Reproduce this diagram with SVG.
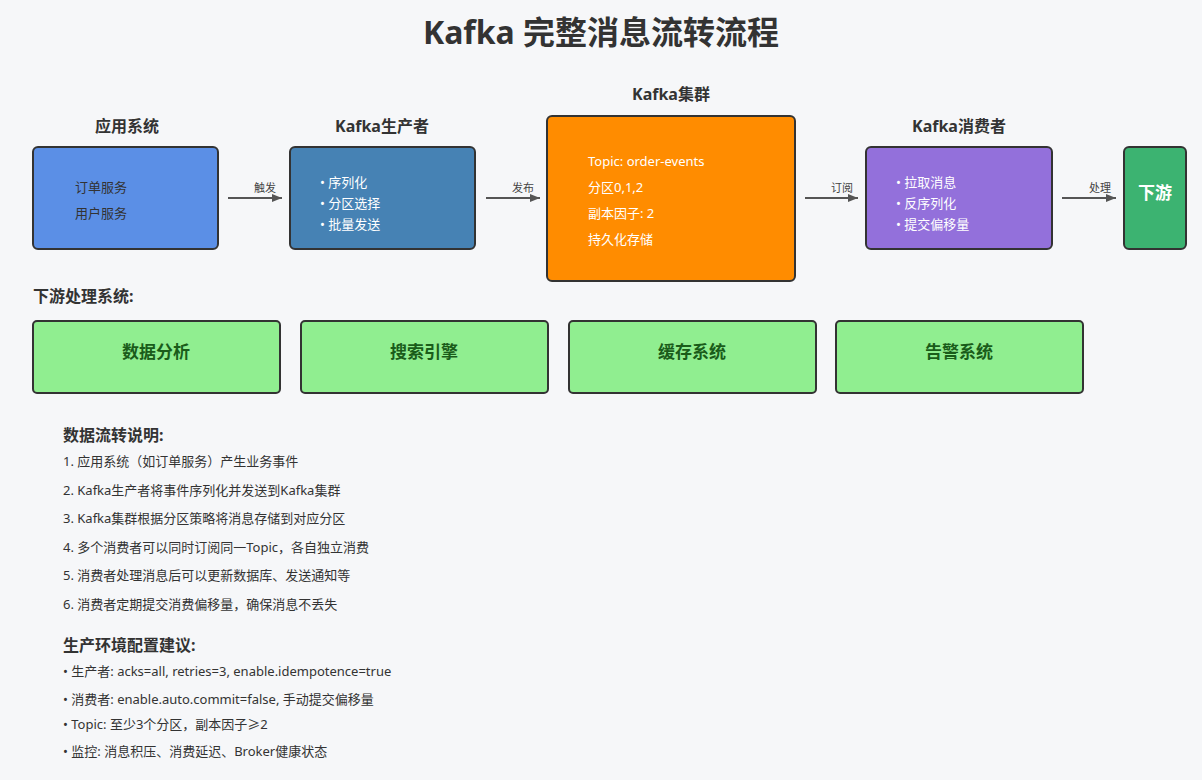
<svg xmlns="http://www.w3.org/2000/svg" width="1202" height="780" viewBox="0 0 1202 780">
<style>
text{font-family:"Noto Sans","Noto Sans CJK SC",sans-serif}
.box{stroke:#333;stroke-width:2}
.h{font-weight:bold;font-size:16px;fill:#333;text-anchor:middle}
.w{font-size:13px;fill:#fff}
.l{font-size:11px;fill:#444;text-anchor:middle}
.g{fill:#90ee90}
.gt{font-weight:bold;font-size:17px;fill:#1a5c1a;text-anchor:middle}
.s{font-size:13px;fill:#333}
.sh{font-weight:bold;font-size:16px;fill:#333}
.c{stroke:#555;stroke-width:2;fill:none;marker-end:url(#a)}
</style>
<defs><marker id="a" markerUnits="userSpaceOnUse" markerWidth="10" markerHeight="8" refX="10" refY="4" orient="auto"><path d="M0,0L10,4L0,8z" fill="#555"/></marker></defs>
<rect width="1202" height="780" fill="#f6f7f9"/>
<text x="601" y="44" text-anchor="middle" font-size="32" font-weight="bold" fill="#333">Kafka 完整消息流转流程</text>
<g id="app"><text class="h" x="127" y="132">应用系统</text><rect class="box" x="33" y="147" width="185" height="102" rx="5" fill="#5b8fe6"/><text class="s" x="75" y="192" fill="#233">订单服务</text><text class="s" x="75" y="218">用户服务</text></g>
<g id="producer"><text class="h" x="382" y="132">Kafka生产者</text><rect class="box" x="290" y="147" width="185" height="102" rx="5" fill="#4682b4"/><text class="w" x="320" y="187">• 序列化</text><text class="w" x="320" y="208">• 分区选择</text><text class="w" x="320" y="229">• 批量发送</text></g>
<g id="cluster"><text class="h" x="671" y="100">Kafka集群</text><rect class="box" x="547" y="116" width="248" height="165" rx="5" fill="#ff8c00"/><text class="w" x="588" y="166">Topic: order-events</text><text class="w" x="588" y="192">分区0,1,2</text><text class="w" x="588" y="218">副本因子: 2</text><text class="w" x="588" y="244">持久化存储</text></g>
<g id="consumer"><text class="h" x="959" y="132">Kafka消费者</text><rect class="box" x="866" y="147" width="186" height="102" rx="5" fill="#9370db"/><text class="w" x="896" y="187">• 拉取消息</text><text class="w" x="896" y="208">• 反序列化</text><text class="w" x="896" y="229">• 提交偏移量</text></g>
<g id="downstream"><rect class="box" x="1124" y="147" width="62" height="102" rx="5" fill="#3cb371"/><text x="1155" y="199" text-anchor="middle" font-size="17" font-weight="bold" fill="#fff">下游</text></g>
<g id="connectors">
<path class="c" d="M228,198H282"/><text class="l" x="265" y="192">触发</text>
<path class="c" d="M486,198H540"/><text class="l" x="523" y="192">发布</text>
<path class="c" d="M805,198H858"/><text class="l" x="842" y="192">订阅</text>
<path class="c" d="M1062,198H1116"/><text class="l" x="1100" y="192">处理</text>
</g>
<text class="sh" x="33" y="302">下游处理系统:</text>
<g id="analysis"><rect class="box g" x="33" y="321" width="247" height="72" rx="4"/><text class="gt" x="156" y="358">数据分析</text></g>
<g id="search"><rect class="box g" x="301" y="321" width="247" height="72" rx="4"/><text class="gt" x="424" y="358">搜索引擎</text></g>
<g id="cache"><rect class="box g" x="569" y="321" width="247" height="72" rx="4"/><text class="gt" x="692" y="358">缓存系统</text></g>
<g id="alert"><rect class="box g" x="836" y="321" width="247" height="72" rx="4"/><text class="gt" x="959" y="358">告警系统</text></g>
<text class="sh" x="63" y="441">数据流转说明:</text>
<text class="s" x="63" y="466">1. 应用系统（如订单服务）产生业务事件</text>
<text class="s" x="63" y="495">2. Kafka生产者将事件序列化并发送到Kafka集群</text>
<text class="s" x="63" y="523">3. Kafka集群根据分区策略将消息存储到对应分区</text>
<text class="s" x="63" y="552">4. 多个消费者可以同时订阅同一Topic，各自独立消费</text>
<text class="s" x="63" y="580">5. 消费者处理消息后可以更新数据库、发送通知等</text>
<text class="s" x="63" y="609">6. 消费者定期提交消费偏移量，确保消息不丢失</text>
<text class="sh" x="63" y="651">生产环境配置建议:</text>
<text class="s" x="63" y="676">• 生产者: acks=all, retries=3, enable.idempotence=true</text>
<text class="s" x="63" y="704">• 消费者: enable.auto.commit=false, 手动提交偏移量</text>
<text class="s" x="63" y="729">• Topic: 至少3个分区，副本因子≥2</text>
<text class="s" x="63" y="756">• 监控: 消息积压、消费延迟、Broker健康状态</text>
</svg>
